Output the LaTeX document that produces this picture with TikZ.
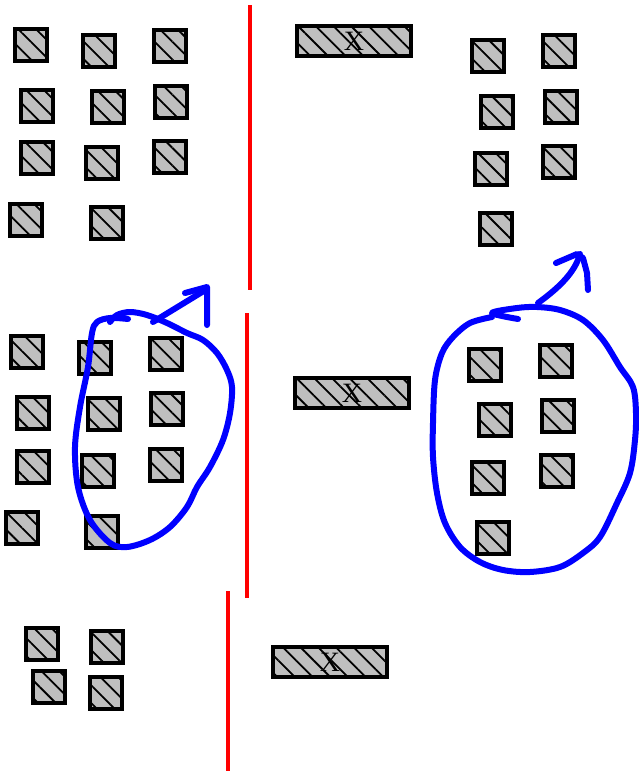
\documentclass[tikz,border=0pt]{standalone}
\usepackage{fontspec}
\setmainfont{Liberation Serif}
\usepackage{xcolor}
\usepackage{tikz}
\usetikzlibrary{patterns.meta}

\begin{document}
\begin{tikzpicture}[
  x=1pt, y=-1pt,
  hatch/.style={preaction={fill=gray!50}, preaction={pattern={Lines[angle=-45,distance=12.5pt,line width=1.8pt]}, pattern color=black}},
  crate/.style={draw, line width=4.5pt, hatch, minimum size=32pt, inner sep=0pt},
  bar/.style={draw, line width=4.5pt, hatch, minimum width=114pt, minimum height=30pt, inner sep=0pt, font=\fontsize{28}{28}\selectfont},
  divider/.style={red, line width=4pt},
  scribble/.style={blue, line width=6pt, line cap=round, line join=round}
]
\useasboundingbox (0,0) rectangle (638,771);

% top row, left group
\node[crate] (a1) at (31,45) {};
\node[crate] (a2) at (99,51) {};
\node[crate] (a3) at (170,46) {};
\node[crate] (a4) at (37,106) {};
\node[crate] (a5) at (108,107) {};
\node[crate] (a6) at (171,102) {};
\node[crate] (a7) at (37,158) {};
\node[crate] (a8) at (102,163) {};
\node[crate] (a9) at (170,157) {};
\node[crate] (a10) at (26,220) {};
\node[crate] (a11) at (107,223) {};

\node[bar] (xa) at (354,41) {X};

% top row, right group
\node[crate] (b1) at (488,56) {};
\node[crate] (b2) at (559,51) {};
\node[crate] (b3) at (497,112) {};
\node[crate] (b4) at (561,107) {};
\node[crate] (b5) at (491,169) {};
\node[crate] (b6) at (559,162) {};
\node[crate] (b7) at (496,229) {};

% middle row, left group
\node[crate] (c1) at (27,352) {};
\node[crate] (c2) at (95,358) {};
\node[crate] (c3) at (166,354) {};
\node[crate] (c4) at (33,413) {};
\node[crate] (c5) at (104,414) {};
\node[crate] (c6) at (167,409) {};
\node[crate] (c7) at (33,467) {};
\node[crate] (c8) at (98,471) {};
\node[crate] (c9) at (166,465) {};
\node[crate] (c10) at (22,528) {};
\node[crate] (c11) at (102,532) {};

\node[bar] (xb) at (352,393) {X};

% middle row, right group
\node[crate] (d1) at (485,365) {};
\node[crate] (d2) at (556,361) {};
\node[crate] (d3) at (495,420) {};
\node[crate] (d4) at (558,416) {};
\node[crate] (d5) at (488,478) {};
\node[crate] (d6) at (557,471) {};
\node[crate] (d7) at (493,538) {};

% bottom row
\node[crate] (e1) at (42,644) {};
\node[crate] (e2) at (107,647) {};
\node[crate] (e3) at (49,687) {};
\node[crate] (e4) at (106,693) {};

\node[bar] (xc) at (330,662) {X};

% red dividers
\draw[divider] (250,5) -- (250,290);
\draw[divider] (247,313) -- (247,598);
\draw[divider] (228,591) -- (228,771);

% blue loops
\draw[scribble] plot[smooth, tension=0.55] coordinates {
  (128,319) (110,318) (97,322) (92,333) (88,367) (80,407) (75,447) (78,487)
  (90,520) (110,543) (127,547) (150,540) (170,527) (187,507) (197,487)
  (210,467) (223,440) (230,413) (232,387) (227,370) (217,353) (203,340)
  (187,333) (167,323) (147,315) (130,312) (117,315) (110,322)};
\draw[scribble] (153,322) -- (207,289);
\draw[scribble] (185,293) -- (207,287) -- (207,325);

\draw[scribble] plot[smooth, tension=0.55] coordinates {
  (518,319) (492,313) (517,308) (537,307) (560,310) (583,320) (603,340)
  (620,367) (633,387) (636,413) (635,440) (630,473) (617,503) (600,537)
  (583,553) (560,567) (530,572) (503,570) (480,562) (460,547) (445,523)
  (437,493) (433,457) (433,423) (435,380) (442,353) (453,337) (470,323)
  (492,317)};
\draw[scribble] (538,303) .. controls (560,287) and (575,272) .. (580,254);
\draw[scribble] (556,263) -- (577,254) -- (583,258) -- (587,273) -- (588,290);
\end{tikzpicture}
\end{document}
